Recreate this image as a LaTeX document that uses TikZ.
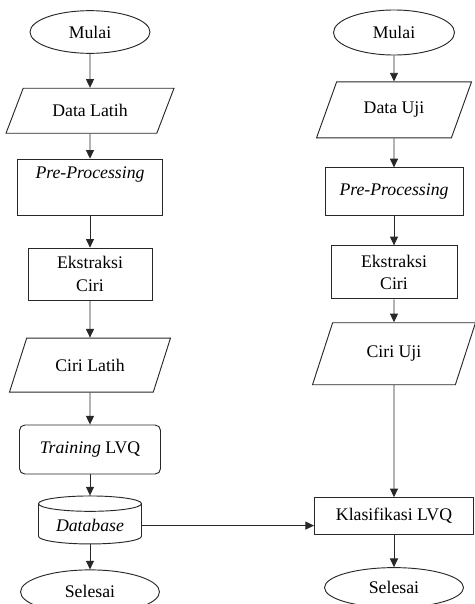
\documentclass[tikz,border=0pt]{standalone}
\usepackage{fontspec}
\setmainfont{Liberation Serif}
\usepackage{xcolor}
\usetikzlibrary{shapes,arrows.meta,positioning}
\definecolor{flowline}{RGB}{40,40,40}

\begin{document}
\begin{tikzpicture}[
    x=0.75pt, y=-0.75pt,
    font=\fontsize{13.3}{17}\selectfont,
    terminal/.style={ellipse, draw=flowline, line width=0.7pt, inner sep=0pt,
        minimum width=90pt, minimum height=32pt},
    io/.style={trapezium, trapezium left angle=46, trapezium right angle=134,
        trapezium stretches body, draw=flowline, line width=0.7pt, inner sep=2pt},
    process/.style={rectangle, draw=flowline, line width=0.7pt, align=center},
    store/.style={cylinder, shape border rotate=90, aspect=0.2,
        draw=flowline, line width=0.7pt, minimum width=77.25pt, minimum height=36pt},
    >={Triangle[length=6.5pt,width=6pt]}
]
\useasboundingbox (0,0) rectangle (475,604);

% training side
\node[terminal] (mulaiA) at (90,32) {Mulai};
\node[io, below=25.5pt of mulaiA, minimum width=126pt, minimum height=33.75pt] (latih) {Data Latih};
\node[process, below=18.75pt of latih, minimum width=108.75pt, minimum height=42pt] (prepA) {\textit{Pre-Processing}\\ \strut};
\node[process, below=24pt of prepA, minimum width=93pt, minimum height=39pt] (ekstrA) {Ekstraksi\\Ciri};
\node[io, below=27.75pt of ekstrA, minimum width=120.75pt, minimum height=40.5pt] (ciriA) {Ciri Latih};
\node[process, rounded corners=4pt, below=24pt of ciriA, minimum width=105.75pt, minimum height=36.75pt] (train) {\textit{Training} LVQ};
\node[store, below=15.75pt of train] (db) {\textit{Database}};
\node[terminal, below=18.75pt of db, minimum width=104.25pt, minimum height=33pt] (selesaiA) {Selesai};

% testing side
\node[terminal, minimum width=90.75pt, minimum height=33.75pt] (mulaiB) at (394,32.5) {Mulai};
\node[io, below=19.5pt of mulaiB, minimum width=116.25pt, minimum height=42pt] (uji) {Data Uji};
\node[process, below=21.75pt of uji, minimum width=103.5pt, minimum height=36pt] (prepB) {\textit{Pre-Processing}};
\node[process, below=21.75pt of prepB, minimum width=94.5pt, minimum height=39.75pt] (ekstrB) {Ekstraksi\\Ciri};
\node[io, below=17.25pt of ekstrB, minimum width=122.25pt, minimum height=46.5pt] (ciriB) {Ciri Uji};
\node[process, below=84pt of ciriB, minimum width=119.25pt, minimum height=27.75pt] (klasif) {Klasifikasi LVQ};
\node[terminal, below=24pt of klasif, minimum width=104.25pt, minimum height=30pt] (selesaiB) {Selesai};

\draw[->, flowline, line width=0.7pt] (mulaiA) -- (latih);
\draw[->, flowline, line width=0.7pt] (latih) -- (prepA);
\draw[->, flowline, line width=0.7pt] (prepA) -- (ekstrA);
\draw[->, flowline, line width=0.7pt] (ekstrA) -- (ciriA);
\draw[->, flowline, line width=0.7pt] (ciriA) -- (train);
\draw[->, flowline, line width=0.7pt] (train) -- (db);
\draw[->, flowline, line width=0.7pt] (db) -- (selesaiA);

\draw[->, flowline, line width=0.7pt] (mulaiB) -- (uji);
\draw[->, flowline, line width=0.7pt] (uji) -- (prepB);
\draw[->, flowline, line width=0.7pt] (prepB) -- (ekstrB);
\draw[->, flowline, line width=0.7pt] (ekstrB) -- (ciriB);
\draw[->, flowline, line width=0.7pt] (ciriB) -- (klasif);
\draw[->, flowline, line width=0.7pt] (db.east) -- (db.east -| klasif.west);
\draw[->, flowline, line width=0.7pt] (klasif) -- (selesaiB);
\end{tikzpicture}
\end{document}
